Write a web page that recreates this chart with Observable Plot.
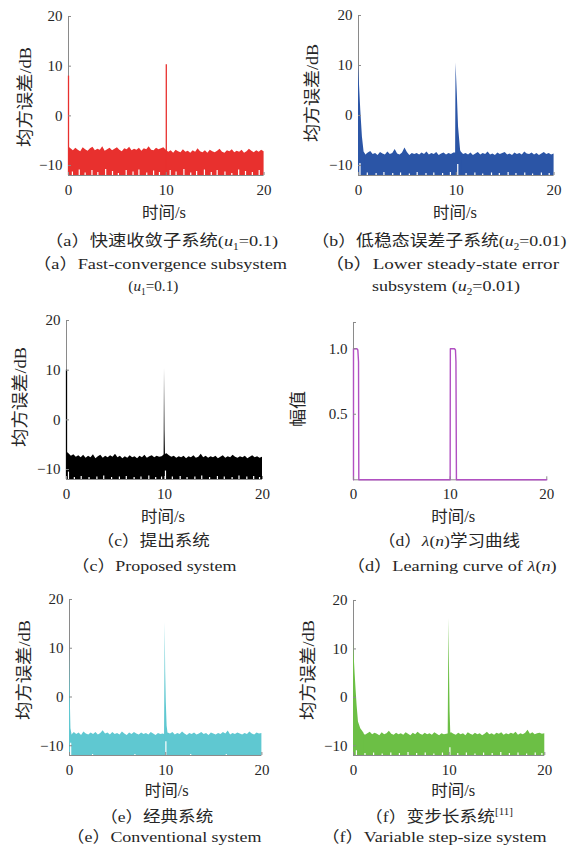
<!DOCTYPE html>
<html><head><meta charset="utf-8">
<script src="https://cdn.jsdelivr.net/npm/d3@7"></script>
<script src="https://cdn.jsdelivr.net/npm/@observablehq/plot@0.6"></script>
<style>
body{margin:0;background:#fff;}
#wrap{position:relative;width:588px;height:847px;overflow:hidden;background:#fff;}
#wrap svg{position:absolute;}
</style></head><body><div id="wrap"></div>
<script>
// ---------- shared scales ----------
const xDomain = [0, 20];
const xTicks = [0, 10, 20];
const mseDomain = [-12, 20];
const mseTicks = [-10, 0, 10, 20];
const lamDomain = [0, 1.2];
const lamTicks = [0.5, 1.0, 1.2];

// sampling instants of the steady-state noise envelope (s)
const tGrid = [0,0.25,0.5,0.75,1,1.25,1.5,1.75,2,2.25,
2.5,2.75,3,3.25,3.5,3.75,4,4.25,4.5,4.75,
5,5.25,5.5,5.75,6,6.25,6.5,6.75,7,7.25,
7.5,7.75,8,8.25,8.5,8.75,9,9.25,9.5,9.75,
10,10.25,10.5,10.75,11,11.25,11.5,11.75,12,12.25,
12.5,12.75,13,13.25,13.5,13.75,14,14.25,14.5,14.75,
15,15.25,15.5,15.75,16,16.25,16.5,16.75,17,17.25,
17.5,17.75,18,18.25,18.5,18.75,19,19.25,19.5,19.75,
20];

// ---------- (a) fast-convergence subsystem (red) ----------
const aTop = [-6.2,-6.6,-7.0,-6.5,-6.9,-7.2,-6.4,-6.8,-7.1,-6.6,
-6.3,-7.0,-6.7,-6.9,-6.2,-7.1,-6.8,-6.5,-7.0,-6.7,
-6.4,-6.9,-7.2,-6.6,-6.8,-6.3,-7.0,-6.7,-6.9,-6.5,
-7.1,-6.6,-6.8,-6.2,-6.9,-7.0,-6.5,-6.8,-6.6,-6.4,
-6.9,-7.3,-7.0,-7.5,-6.9,-7.2,-7.4,-6.8,-7.3,-7.1,
-7.5,-7.0,-7.3,-6.6,-7.2,-7.4,-7.0,-7.5,-6.9,-7.2,
-7.4,-7.1,-6.7,-7.3,-7.5,-7.0,-7.2,-6.8,-7.4,-7.1,
-7.3,-6.9,-7.5,-7.2,-6.7,-7.1,-7.4,-7.0,-7.3,-6.9,
-7.2];
const aLineT = [0, 10.0];
const aLineY = [8.0, 10.3];
const aGapT = [0.4,1.1,1.7,2.4,3.0,3.8,4.5,5.1,5.9,6.6,7.2,8.0,8.7,9.3,10.4,11.0,11.8,12.5,13.1,13.9,14.6,15.2,16.0,16.7,17.4,18.1,18.8,19.5];
const aGapY = [-11.3,-10.9,-11.5,-11.0,-11.4,-10.8,-11.2,-11.6,-11.0,-11.3,-10.9,-11.5,-11.1,-11.4,-11.0,-11.3,-10.8,-11.5,-11.2,-10.9,-11.4,-11.0,-11.3,-11.6,-10.9,-11.2,-11.4,-11.0];

// ---------- (b) lower steady-state error subsystem (blue) ----------
const bTop = [-7.6,-7.8,-7.4,-7.9,-7.5,-7.2,-7.8,-7.6,-8.0,-7.4,
-7.7,-7.9,-7.3,-7.8,-7.6,-6.8,-7.7,-7.9,-7.5,-6.5,
-7.4,-8.0,-7.6,-7.8,-7.6,-7.9,-7.5,-7.8,-7.3,-7.9,
-7.6,-7.8,-7.4,-8.0,-7.7,-7.5,-7.9,-7.6,-7.8,-7.5,
-7.5,-7.4,-7.3,-7.8,-7.6,-7.9,-7.5,-8.0,-7.7,-7.4,
-7.9,-7.6,-7.8,-7.3,-7.9,-7.7,-8.0,-7.5,-7.8,-7.6,
-7.4,-7.9,-7.7,-8.0,-7.5,-7.8,-7.6,-7.9,-7.3,-7.7,
-7.8,-7.5,-7.9,-7.6,-8.0,-7.7,-7.4,-7.8,-7.6,-7.9,
-7.7];
const bBurst0T = [0, 0.06, 0.23, 0.4, 0.57, 0.7];
const bBurst0Y = [10.2, 7.8, 1.1, -4.3, -7.3, -7.7];
const bBurst10T = [9.93, 9.97, 10.1, 10.23, 10.44, 10.55];
const bBurst10Y = [-7.5, 10.5, 4.5, -2.3, -7.0, -7.6];
const bGapT = [0.15,0.9,1.8,2.6,3.5,4.3,5.2,6.0,6.9,7.7,8.6,9.4,10.15,11.0,11.9,12.7,13.6,14.4,15.3,16.1,17.0,17.8,18.7,19.5];
const bGapY = [-9.6,-11.5,-11.6,-11.4,-11.6,-11.5,-11.7,-11.4,-11.6,-11.5,-11.6,-11.4,-9.8,-11.6,-11.5,-11.7,-11.5,-11.6,-11.4,-11.6,-11.5,-11.7,-11.5,-11.6];

// ---------- (c) proposed system (black) ----------
const cTop = [-6.4,-6.8,-7.3,-7.0,-7.5,-7.2,-7.6,-7.1,-7.7,-7.3,
-7.6,-7.0,-7.8,-7.4,-7.1,-7.7,-7.3,-7.6,-7.2,-7.5,
-6.9,-7.6,-7.3,-7.8,-7.4,-7.7,-7.2,-7.6,-7.4,-7.8,
-7.3,-7.6,-7.1,-7.7,-7.4,-7.2,-7.6,-7.3,-7.5,-7.4,
-7.0,-6.8,-7.2,-7.5,-7.3,-7.7,-7.4,-7.6,-7.3,-7.8,
-7.4,-7.6,-7.2,-7.7,-7.5,-6.9,-7.6,-7.3,-7.7,-7.4,
-7.6,-7.3,-7.8,-7.5,-7.2,-7.7,-7.4,-7.6,-7.1,-7.5,
-7.7,-7.4,-7.6,-7.3,-7.8,-7.5,-7.2,-7.6,-7.4,-7.7,
-7.5];
const cLineT = [0];
const cLineY = [10.0];
const cBurst10T = [9.96, 10.0, 10.05, 10.1];
const cBurst10Y = [-7.5, 10.4, -2.0, -7.2];
const cGapT = [0.2,0.8,1.5,2.3,3.1,3.8,4.6,5.4,6.1,6.9,7.6,8.4,9.1,9.7,10.1,10.8,11.6,12.3,13.1,13.8,14.6,15.4,16.1,16.9,17.6,18.4,19.1,19.7];
const cGapY = [-10.5,-11.6,-11.4,-11.6,-11.5,-11.3,-11.6,-11.5,-11.4,-11.6,-11.5,-11.3,-11.6,-11.5,-10.3,-11.5,-11.4,-11.6,-11.5,-11.3,-11.6,-11.4,-11.5,-11.6,-11.3,-11.5,-11.4,-11.6];

// ---------- (d) learning curve of lambda(n) (purple) ----------
const dT = [0, 0, 0.35, 0.45, 0.52, 0.55, 10.0, 10.02, 10.45, 10.55, 10.6, 10.65, 20];
const dY = [0, 1.0, 1.0, 0.99, 0.9, 0, 0, 1.0, 1.0, 0.99, 0.9, 0, 0];

// ---------- (e) conventional system (cyan) ----------
const eTop = [-7.5,-7.8,-7.3,-7.7,-7.4,-7.9,-7.2,-7.6,-7.8,-7.4,
-7.7,-7.3,-7.8,-7.5,-6.9,-7.6,-7.4,-7.8,-7.3,-7.7,
-7.5,-7.8,-7.2,-7.6,-7.9,-7.4,-7.7,-7.3,-7.6,-7.8,
-7.4,-7.7,-7.5,-7.8,-7.3,-7.6,-7.9,-7.5,-7.7,-7.6,
-7.8,-7.4,-7.6,-7.3,-7.8,-7.5,-7.7,-7.2,-7.6,-7.9,
-7.5,-7.7,-7.4,-7.8,-7.6,-7.3,-7.7,-7.5,-7.9,-7.4,
-7.6,-7.8,-7.5,-7.7,-7.3,-7.6,-7.0,-7.8,-7.5,-7.7,
-7.4,-7.6,-7.8,-7.5,-7.7,-7.2,-7.6,-7.8,-7.4,-7.6,
-7.5];
const eBurst0T = [0, 0.05, 0.1, 0.15, 0.25];
const eBurst0Y = [10.2, 4.0, -2.0, -6.5, -7.6];
const eBurst10T = [9.88, 9.95, 10.0, 10.06, 10.15, 10.25];
const eBurst10Y = [-7.5, 15.3, 5.0, -1.0, -6.0, -7.6];
const eGapT = [0.12, 2.4, 6.8, 10.02, 12.6, 16.3];
const eGapY = [-9.5, -11.8, -11.8, -9.2, -11.8, -11.8];

// ---------- (f) variable step-size system (green) ----------
const fTop = [-7.2,-7.0,-7.3,-7.6,-7.4,-7.8,-7.5,-7.2,-7.7,-7.4,
-7.6,-7.9,-7.3,-7.7,-7.5,-7.0,-7.6,-7.8,-7.4,-7.7,
-7.5,-7.8,-7.3,-7.6,-7.9,-7.4,-7.7,-7.2,-7.6,-7.8,
-7.4,-7.7,-7.5,-7.8,-7.3,-7.6,-7.9,-7.5,-7.7,-7.6,
-7.5,-7.3,-7.6,-7.8,-7.4,-7.7,-7.5,-7.9,-7.3,-7.6,
-7.8,-7.4,-7.7,-7.5,-7.9,-7.6,-7.2,-7.7,-7.5,-7.8,
-7.4,-7.6,-7.3,-7.8,-7.5,-7.7,-7.4,-7.6,-7.2,-7.8,
-7.5,-7.7,-7.4,-6.8,-7.6,-7.3,-7.7,-7.5,-7.4,-7.6,
-7.5];
const fBurst0T = [0, 0.06, 0.17, 0.27, 0.38, 0.52, 0.76, 1.1];
const fBurst0Y = [11.0, 8.9, 4.9, 1.5, -1.8, -5.1, -6.5, -7.4];
const fBurst10T = [9.9, 9.98, 10.05, 10.1, 10.17];
const fBurst10Y = [-7.5, 16.3, 4.0, -3.0, -7.3];
const fGapT = [0.3,1.2,2.1,3.0,3.9,4.8,5.7,6.6,7.5,8.4,9.3,10.08,10.9,11.8,12.7,13.6,14.5,15.4,16.3,17.2,18.1,19.0,19.7];
const fGapY = [-11.0,-11.6,-11.5,-11.7,-11.5,-11.6,-11.4,-11.6,-11.5,-11.7,-11.5,-10.4,-11.6,-11.5,-11.7,-11.5,-11.6,-11.4,-11.6,-11.5,-11.7,-11.5,-11.6];

// ---------- layout / style ----------
const AXIS = "#8a8a8a";
const TXT = "#262626";
const FONT = "'Liberation Serif','Times New Roman','Noto Sans CJK SC',serif";
const ML = 45, MR = 12, MT = 10, MB = 30;
const wrap = document.getElementById("wrap");

const zip = (T, Y) => T.map((t, i) => ({t, y: Y[i]}));

function place(svg, g) {
  svg.style.left = (g.x0 - ML) + "px";
  svg.style.top = (g.yT - MT) + "px";
  wrap.appendChild(svg);
}

function baseOpts(g, yDomain) {
  return {
    width: g.x1 - g.x0 + ML + MR,
    height: g.yB - g.yT + MT + MB,
    marginLeft: ML, marginRight: MR, marginTop: MT, marginBottom: MB,
    x: {domain: xDomain},
    y: {domain: yDomain},
    style: {fontFamily: FONT, fontSize: "15px", color: TXT, background: "transparent", maxWidth: "none"}
  };
}

function msePanel(g, p) {
  const floor = mseDomain[0];
  const marks = [
    Plot.ruleX([xDomain[0]], {stroke: AXIS, strokeWidth: 1}),
    Plot.areaY(zip(tGrid, p.top), {x: "t", y1: () => floor, y2: "y", fill: p.color})
  ];
  for (const b of p.bursts) marks.push(Plot.areaY(zip(b[0], b[1]), {x: "t", y1: () => floor, y2: "y", fill: p.color}));
  if (p.lines) marks.push(Plot.ruleX(zip(p.lines[0], p.lines[1]), {x: "t", y1: () => floor, y2: "y", stroke: p.color, strokeWidth: 1.3}));
  marks.push(Plot.ruleX(zip(p.gaps[0], p.gaps[1]), {x: "t", y1: () => floor, y2: "y", stroke: "white", strokeWidth: 1.2}));
  marks.push(Plot.ruleY([floor], {stroke: AXIS}));
  marks.push(Plot.axisX({ticks: xTicks, tickSize: -3, tickPadding: 12, stroke: AXIS, label: null}));
  marks.push(Plot.axisY({ticks: mseTicks, tickSize: -3, tickPadding: 9, stroke: AXIS, label: null}));
  place(Plot.plot({...baseOpts(g, mseDomain), marks}), g);
}

msePanel({x0: 67.7, x1: 263.3, yT: 16, yB: 175},
  {color: "#e8302e", top: aTop, bursts: [], lines: [aLineT, aLineY], gaps: [aGapT, aGapY]});
msePanel({x0: 357.7, x1: 553.3, yT: 15, yB: 175},
  {color: "#2b55a6", top: bTop, bursts: [[bBurst0T, bBurst0Y], [bBurst10T, bBurst10Y]], gaps: [bGapT, bGapY]});
msePanel({x0: 65.7, x1: 261.7, yT: 319.5, yB: 478.5},
  {color: "#000000", top: cTop, bursts: [[cBurst10T, cBurst10Y]], lines: [cLineT, cLineY], gaps: [cGapT, cGapY]});
msePanel({x0: 69.3, x1: 261.7, yT: 599, yB: 755},
  {color: "#5fc8d1", top: eTop, bursts: [[eBurst0T, eBurst0Y], [eBurst10T, eBurst10Y]], gaps: [eGapT, eGapY]});
msePanel({x0: 352.7, x1: 544, yT: 600, yB: 755},
  {color: "#6cbf45", top: fTop, bursts: [[fBurst0T, fBurst0Y], [fBurst10T, fBurst10Y]], gaps: [fGapT, fGapY]});

// (d) lambda panel
{
  const g = {x0: 352.7, x1: 546, yT: 321.7, yB: 479};
  place(Plot.plot({
    ...baseOpts(g, lamDomain),
    marks: [
      Plot.ruleX([xDomain[0]], {stroke: AXIS}),
      Plot.ruleY([lamDomain[0]], {stroke: AXIS}),
      Plot.line(zip(dT, dY), {x: "t", y: "y", stroke: "#b150c2", strokeWidth: 1.4}),
      Plot.axisX({ticks: xTicks, tickSize: -3, tickPadding: 12, stroke: AXIS, label: null}),
      Plot.axisY({ticks: lamTicks, tickSize: -3, tickPadding: 9, stroke: AXIS, label: null,
        tickFormat: d => d === lamTicks[2] ? "" : d.toFixed(1)})
    ]
  }), g);
}

// ---------- text overlay ----------
const overlay = d3.select(wrap).append("svg").attr("width", 588).attr("height", 847)
  .style("left", "0px").style("top", "0px");

function addText(cx, cy, parts, size, len, rot) {
  const el = overlay.append("text")
    .attr("transform", `translate(${cx},${cy})${rot ? " rotate(-90)" : ""}`)
    .attr("text-anchor", "middle")
    .attr("y", size * 0.36)
    .attr("font-size", size)
    .attr("font-family", FONT)
    .attr("fill", TXT);
  if (len) el.attr("textLength", len).attr("lengthAdjust", "spacingAndGlyphs");
  let shift = 0;
  for (const [s, k] of parts) {
    const ts = el.append("tspan").text(s);
    if (k === "i") ts.attr("font-style", "italic");
    const target = k === "sub" ? size * 0.28 : k === "sup" ? -size * 0.4 : 0;
    if (target !== shift) { ts.attr("dy", target - shift); shift = target; }
    if (k === "sub" || k === "sup") ts.attr("font-size", size * 0.62);
  }
}

const YLAB = [["均方误差/dB"]];
const XLAB = [["时间/s"]];
// y labels
addText(25, 97, YLAB, 16.5, 100, true);
addText(312.5, 93, YLAB, 16.5, 98, true);
addText(20, 397, YLAB, 16.5, 100, true);
addText(298, 409, [["幅值"]], 16.5, 36, true);
addText(24, 670, YLAB, 16.5, 100, true);
addText(308, 670, YLAB, 16.5, 100, true);
// x labels
addText(164, 212, XLAB, 16, 44);
addText(455, 212, XLAB, 16, 44);
addText(163, 516.7, XLAB, 16, 44);
addText(453.3, 516.7, XLAB, 16, 44);
addText(166.7, 790.7, XLAB, 16, 44);
addText(453.3, 790.7, XLAB, 16, 44);
// captions
const CAP = 15.5;
addText(161.5, 240, [["（a）快速收敛子系统("], ["u", "i"], ["1", "sub"], ["=0.1)"]], CAP, 233);
addText(160, 263, [["（a）Fast-convergence subsystem"]], CAP, 254);
addText(153.3, 285, [["("], ["u", "i"], ["1", "sub"], ["=0.1)"]], CAP, 50);
addText(439, 240, [["（b）低稳态误差子系统("], ["u", "i"], ["2", "sub"], ["=0.01)"]], CAP, 255);
addText(442, 263, [["（b）Lower steady-state error"]], CAP, 234);
addText(446, 285, [["subsystem ("], ["u", "i"], ["2", "sub"], ["=0.01)"]], CAP, 148);
addText(153.3, 540, [["（c）提出系统"]], CAP, 113);
addText(154, 565, [["（c）Proposed system"]], CAP, 165);
addText(449, 540, [["（d）"], ["λ", "i"], ["("], ["n", "i"], [")学习曲线"]], CAP, 142);
addText(451.7, 565, [["（d）Learning curve of "], ["λ", "i"], ["("], ["n", "i"], [")"]], CAP, 210);
addText(156.7, 816, [["（e）经典系统"]], CAP, 113);
addText(164, 836.7, [["（e）Conventional system"]], CAP, 195);
addText(439, 816, [["（f）变步长系统"], ["[11]", "sup"]], CAP, 148);
addText(434, 836.7, [["（f）Variable step-size system"]], CAP, 225);
</script></body></html>
